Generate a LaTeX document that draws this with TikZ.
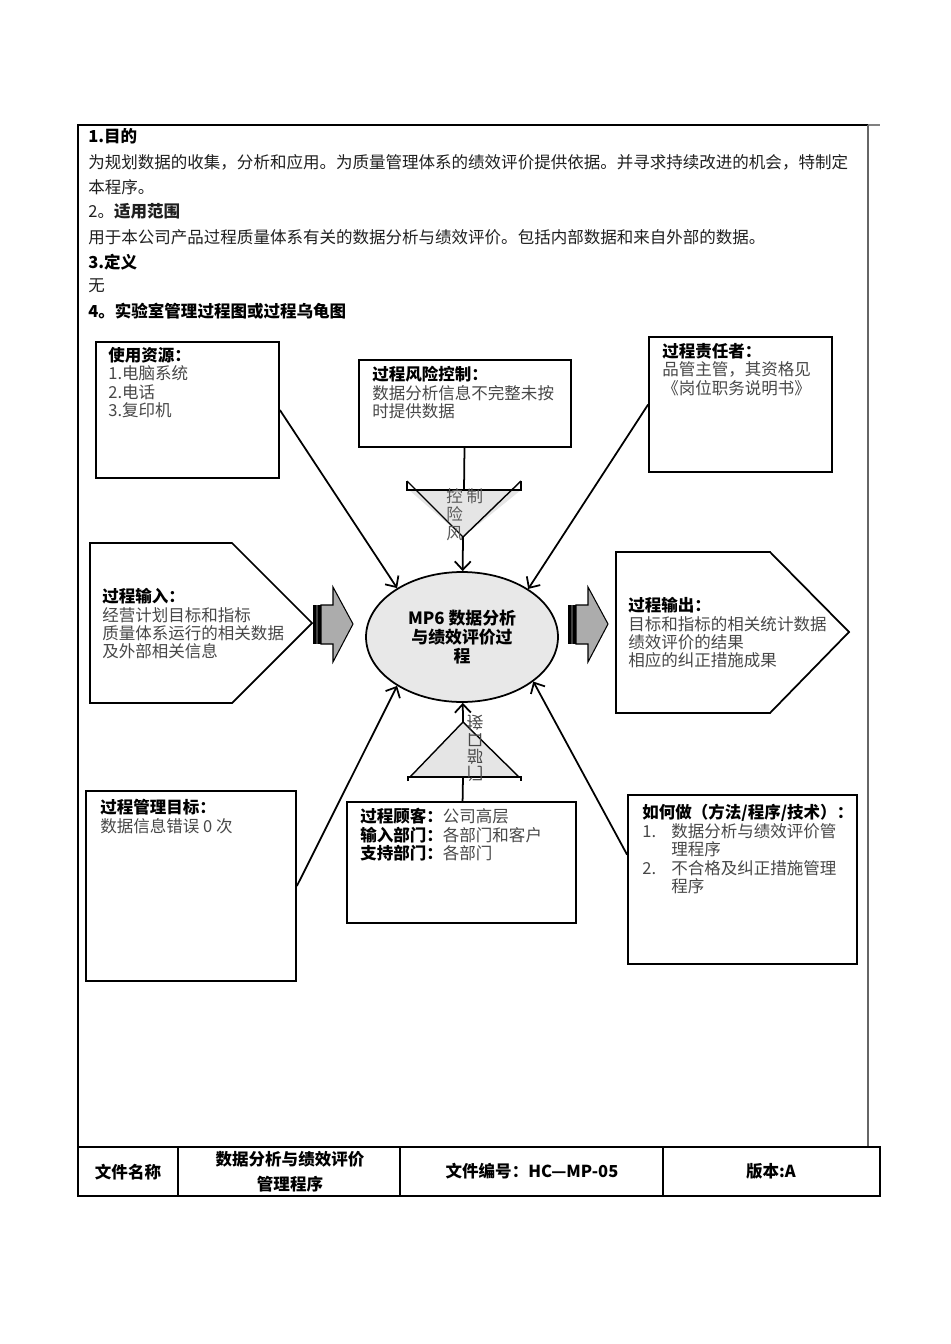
\documentclass[tikz,border=0pt]{standalone}
\usepackage{fontspec}
\setmainfont{Noto Sans CJK SC}
\usepackage{xcolor}
\usetikzlibrary{arrows.meta,positioning,shapes.geometric,calc,fit}

\newcommand{\boxhead}[1]{{\color{black}\bfseries #1}}

\begin{document}
\begin{tikzpicture}[
  x=0.02cm, y=-0.02cm,
  every node/.style={font=\fontsize{9.4}{10.5}\selectfont, inner sep=0pt},
  box/.style={draw, line width=1pt, inner sep=0pt},
  txt/.style={anchor=north west, align=left, text=black!72},
  line/.style={anchor=west, text=black!88},
  hd/.style={anchor=west, font=\fontsize{9.4}{10.5}\selectfont\bfseries},
  proc/.style={ellipse, draw, line width=1pt, fill=gray!18, minimum width=3.84cm,
    minimum height=2.6cm, align=center, font=\fontsize{9.6}{11}\selectfont\bfseries},
  lnk/.style={line width=1pt},
  conn/.style={line width=1pt, -{Straight Barb[length=1.7mm, width=3.2mm, line width=1pt]}},
  tri/.style={fill=gray!20},
  blk/.style={draw, line width=0.6pt, fill=gray!65},
  flip/.style={yscale=-1, text=black!72},
  cell/.style={font=\fontsize{9.4}{14}\selectfont\bfseries, align=center}
]
\useasboundingbox (0,0) rectangle (950,1344);

% page frame
\draw[line width=0.6pt] (868,125) -- (78,125) -- (78,1196);
\draw[line width=0.6pt, gray] (868,125) -- (880,125);
\draw[line width=0.6pt, black!60] (868,125) -- (868,1147);

% sections 1-4
\node[hd] (s1) at (88,136) {1.目的};
\node[line] (s1a) at (88,162) {为规划数据的收集，分析和应用。为质量管理体系的绩效评价提供依据。并寻求持续改进的机会，特制定};
\node[line] (s1b) at (88,187) {本程序。};
\node[line] (s2) at (88,211) {2。\textbf{适用范围}};
\node[line] (s2a) at (88,237) {用于本公司产品过程质量体系有关的数据分析与绩效评价。包括内部数据和来自外部的数据。};
\node[hd] (s3) at (88,262) {3.定义};
\node[line] (s3a) at (88,286) {无};
\node[hd] (s4) at (88,311) {4。实验室管理过程图或过程乌龟图};

% turtle boxes
\node[box, fit={(96,342) (279,478)}] (res) {};
\node[txt] at (108,347) {\boxhead{使用资源：}\\1.电脑系统\\2.电话\\3.复印机};
\node[box, fit={(359,360) (571,447)}] (risk) {};
\node[txt] at (372,366) {\boxhead{过程风险控制：}\\数据分析信息不完整未按\\时提供数据};
\node[box, fit={(649,337) (832,472)}] (owner) {};
\node[txt] at (662,343) {\boxhead{过程责任者：}\\品管主管，其资格见\\《岗位职务说明书》};
\node[box, fit={(86,791) (296,981)}] (goal) {};
\node[txt] at (100,799) {\boxhead{过程管理目标：}\\数据信息错误 0 次};
\node[box, fit={(347,802) (576,923)}] (cust) {};
\node[txt] at (360,808) {\boxhead{过程顾客：}公司高层\\\boxhead{输入部门：}各部门和客户\\\boxhead{支持部门：}各部门};
\node[box, fit={(628,795) (857,964)}] (how) {};
\node[txt] at (642,804) {\boxhead{如何做（方法/程序/技术）：}\\\makebox[0.58cm][l]{1.}数据分析与绩效评价管\\\hspace{0.58cm}理程序\\\makebox[0.58cm][l]{2.}不合格及纠正措施管理\\\hspace{0.58cm}程序};

% input / output
\draw[box] (90,543) -- (232,543) -- (312,623) -- (232,703) -- (90,703) -- cycle;
\node[txt] (inp) at (102,588) {\boxhead{过程输入：}\\经营计划目标和指标\\质量体系运行的相关数据\\及外部相关信息};
\draw[box] (616,552) -- (770,552) -- (849,632) -- (770,713) -- (616,713) -- cycle;
\node[txt] (outp) at (628,597) {\boxhead{过程输出：}\\目标和指标的相关统计数据\\绩效评价的结果\\相应的纠正措施成果};

% process
\node[proc] (mp6) at (462,637) {MP6 数据分析\\与绩效评价过\\程};

% block arrows
\foreach \bx in {313,568} {
  \fill (\bx,605) rectangle ++(3,39);
  \fill[gray!50!black] (\bx+3,605) rectangle ++(2,39);
  \fill (\bx+5,605) rectangle ++(3,39);
  \draw[blk] (\bx+8,605) -- (\bx+20,605) -- (\bx+20,587) -- (\bx+40,624)
    -- (\bx+20,662) -- (\bx+20,644) -- (\bx+8,644) -- cycle;
}

% control triangle
\fill[tri] (409,490) -- (521,490) -- (463,537) -- cycle;
\draw[line width=0.8pt] (407,481) -- (407,490) -- (521,490) -- (521,481);
\draw[line width=0.8pt] (407,481) -- (463,537) -- (521,481);
\coordinate (ctltop) at (464,490);
\coordinate (ctlapex) at (463,537);
\node[txt, text=black!65] at (446,488) {控 制\\险\\风};

% interface triangle
\fill[tri] (410,777) -- (519,777) -- (463,722) -- cycle;
\draw[line width=0.8pt] (408,781) -- (408,777) -- (521,777) -- (521,781);
\draw[line width=0.8pt] (410,777) -- (463,722) -- (519,777);
\coordinate (ifbase) at (463,777);
\coordinate (ifapex) at (463,722);
\node[flip] (if1) at (475,723) {接};
\node[flip] (if2) at (475,740) {口};
\node[flip] (if3) at (475,757) {部};
\node[flip] (if4) at (475,774) {门};

% connections
\draw[lnk] (risk) -- (ctltop);
\draw[conn] (ctlapex) -- (mp6);
\draw[lnk] (cust) -- (ifbase);
\draw[conn] (ifapex) -- (mp6);
\draw[conn] (res.east) -- (mp6.143);
\draw[conn] (owner.west) -- (mp6.36);
\draw[conn] (goal.east) -- (mp6.217);
\draw[conn] ($(how.north west)!0.355!(how.south west)$) -- (mp6.328);

% footer table
\draw[line width=0.6pt] (78,1147) rectangle (880,1196);
\foreach \cx in {178,400,663} \draw[line width=0.6pt] (\cx,1147) -- (\cx,1196);
\node[cell] (fname) at (128,1172) {文件名称};
\node[cell] (ftitle) at (290,1172) {数据分析与绩效评价\\管理程序};
\node[cell] (fno) at (532,1171) {文件编号：HC—MP-05};
\node[cell] (fver) at (771,1171) {版本:A};
\end{tikzpicture}
\end{document}
